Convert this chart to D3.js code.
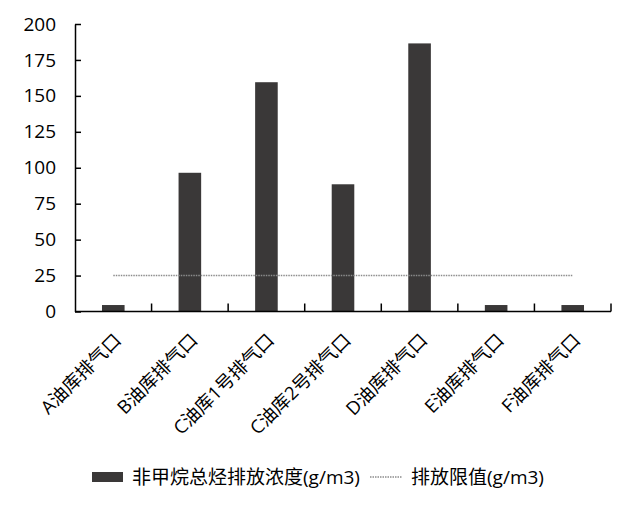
<!DOCTYPE html>
<html>
<head>
<meta charset="utf-8">
<script src="https://cdn.jsdelivr.net/npm/d3@7/dist/d3.min.js"></script>
<style>
  body { margin: 0; background: #fff; }
  svg { display: block; }
  text { font-family: "Open Sans", "Noto Sans CJK SC", sans-serif; fill: #000; }
</style>
</head>
<body>
<svg id="chart" width="624" height="507"></svg>
<script>
const categories = ["A油库排气口", "B油库排气口", "C油库1号排气口", "C油库2号排气口", "D油库排气口", "E油库排气口", "F油库排气口"];
const concentration = [4.5, 96.5, 159.5, 88.5, 186.5, 4.5, 4.5];
const limitValue = [25, 25, 25, 25, 25, 25, 25];
const yTicks = [0, 25, 50, 75, 100, 125, 150, 175, 200];
const seriesNames = ["非甲烷总烃排放浓度(g/m3)", "排放限值(g/m3)"];

const svg = d3.select("#chart");
const plotLeft = 75, plotRight = 611, plotTop = 24, plotBottom = 311.5;

const x = d3.scaleBand().domain(categories).range([plotLeft, plotRight])
  .paddingInner(0.705).paddingOuter(0.3525);
const y = d3.scaleLinear().domain([0, 200]).range([plotBottom, plotTop]);

const barColor = "#3a3838";

// bars
svg.append("g").selectAll("rect").data(categories).join("rect")
  .attr("x", d => x(d))
  .attr("width", x.bandwidth())
  .attr("y", (d, i) => y(concentration[i]))
  .attr("height", (d, i) => y(0) - y(concentration[i]))
  .attr("fill", barColor);

// limit line
const line = d3.line()
  .x((d, i) => x(categories[i]) + x.bandwidth() / 2)
  .y(d => y(d));
svg.append("path").datum(limitValue)
  .attr("d", line)
  .attr("fill", "none")
  .attr("stroke", "#8c8c8c")
  .attr("stroke-width", 1.5)
  .attr("stroke-dasharray", "1.5,1");

// y axis
const yAxis = d3.axisLeft(y).tickValues(yTicks).tickSize(-6).tickPadding(19).tickSizeOuter(0);
const gy = svg.append("g").attr("transform", `translate(${plotLeft},0)`).call(yAxis);
gy.select(".domain").attr("stroke", "#000").attr("stroke-width", 1.5);
gy.selectAll(".tick line").attr("stroke", "#000").attr("stroke-width", 1.5);
gy.selectAll(".tick text").attr("font-size", 19).attr("font-family", "Open Sans, Noto Sans CJK SC").attr("fill", "#000");

// x axis line
svg.append("line").attr("x1", plotLeft).attr("x2", plotRight).attr("y1", plotBottom).attr("y2", plotBottom)
  .attr("stroke", "#000").attr("stroke-width", 1.5);
// x ticks at category boundaries
const bounds = d3.range(1, categories.length + 1).map(i => plotLeft + i * x.step());
svg.append("g").selectAll("line").data(bounds).join("line")
  .attr("x1", d => d).attr("x2", d => d)
  .attr("y1", plotBottom).attr("y2", plotBottom - 8)
  .attr("stroke", "#000").attr("stroke-width", 1.5);

// x labels rotated
svg.append("g").selectAll("text").data(categories).join("text")
  .attr("transform", d => `translate(${x(d) + x.bandwidth() / 2 + 9},${plotBottom + 30}) rotate(-45)`)
  .attr("text-anchor", "end")
  .attr("font-size", 18.5)
  .text(d => d);

// legend
const lg = svg.append("g");
lg.append("rect").attr("x", 92).attr("y", 472).attr("width", 31).attr("height", 10).attr("fill", barColor);
lg.append("text").attr("x", 132).attr("y", 484).attr("font-size", 19).text(seriesNames[0]);
lg.append("line").attr("x1", 370).attr("x2", 402).attr("y1", 477).attr("y2", 477)
  .attr("stroke", "#8c8c8c").attr("stroke-width", 1.5).attr("stroke-dasharray", "1.5,1");
lg.append("text").attr("x", 411).attr("y", 484).attr("font-size", 19).text(seriesNames[1]);
</script>
</body>
</html>
